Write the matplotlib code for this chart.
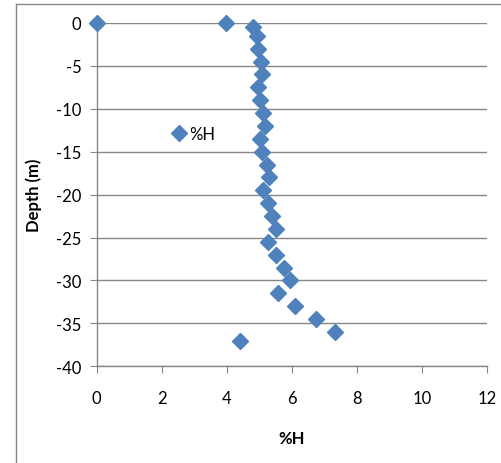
import matplotlib
matplotlib.use("Agg")
import matplotlib.pyplot as plt
from matplotlib.lines import Line2D

plt.rcParams['font.family'] = ['Lato', 'DejaVu Sans']

# %H readings against depth (m)
pct_h = [0.0, 3.96, 4.80, 4.91, 4.97, 5.04, 5.07, 4.97, 5.02, 5.11, 5.17, 5.02,
         5.09, 5.23, 5.29, 5.12, 5.25, 5.40, 5.50, 5.27, 5.50, 5.76, 5.94, 5.57,
         6.10, 6.74, 7.31, 4.39]
depth = [0, 0, -0.5, -1.5, -3, -4.5, -6, -7.5, -9, -10.5, -12, -13.5,
         -15, -16.5, -18, -19.5, -21, -22.5, -24, -25.5, -27, -28.5, -30, -31.5,
         -33, -34.5, -36, -37]

x_ticks = [0, 2, 4, 6, 8, 10, 12]
y_ticks = [0, -5, -10, -15, -20, -25, -30, -35, -40]

fig = plt.figure(figsize=(5.01, 4.64), dpi=100)
ax = fig.add_axes([96.7 / 501, 1 - 367.3 / 464, (487.3 - 96.7) / 501, (367.3 - 24) / 464])

ax.plot(pct_h, depth, 'D', color='#4F81BD', ms=8, mec='#4F81BD', label='%H',
        clip_on=False, zorder=3)

ax.set_xlim(0, 12)
ax.set_ylim(-40, 0)
ax.set_xticks(x_ticks)
ax.set_yticks(y_ticks)
ax.set_xticklabels([str(v) for v in x_ticks])
ax.set_yticklabels([str(v) for v in y_ticks])

for s in ['top', 'right']:
    ax.spines[s].set_visible(False)
for s in ['left', 'bottom']:
    ax.spines[s].set_color('#868686')
    ax.spines[s].set_linewidth(1)
ax.yaxis.grid(True, color='#868686', linewidth=1)
ax.set_axisbelow(True)
ax.tick_params(axis='both', direction='out', length=5, color='#868686',
               labelsize=12, pad=6)
ax.tick_params(axis='x', pad=12)

ax.set_xlabel('%H', fontsize=12, fontweight='bold', labelpad=17)
ax.set_ylabel('Depth (m)', fontsize=12, fontweight='bold', labelpad=10)

ax.legend(loc='center left', bbox_to_anchor=(0.165, 0.676), frameon=False,
          fontsize=12, handletextpad=0.0, handlelength=1.2, borderpad=0)

# outer chart border (left and top edges visible)
fig.add_artist(Line2D([15.5 / 501, 15.5 / 501], [0, 1 - 4.5 / 464], color='#868686', lw=1))
fig.add_artist(Line2D([15.5 / 501, 1], [1 - 4.5 / 464, 1 - 4.5 / 464], color='#868686', lw=1))

fig.savefig('out.png', dpi=100)
